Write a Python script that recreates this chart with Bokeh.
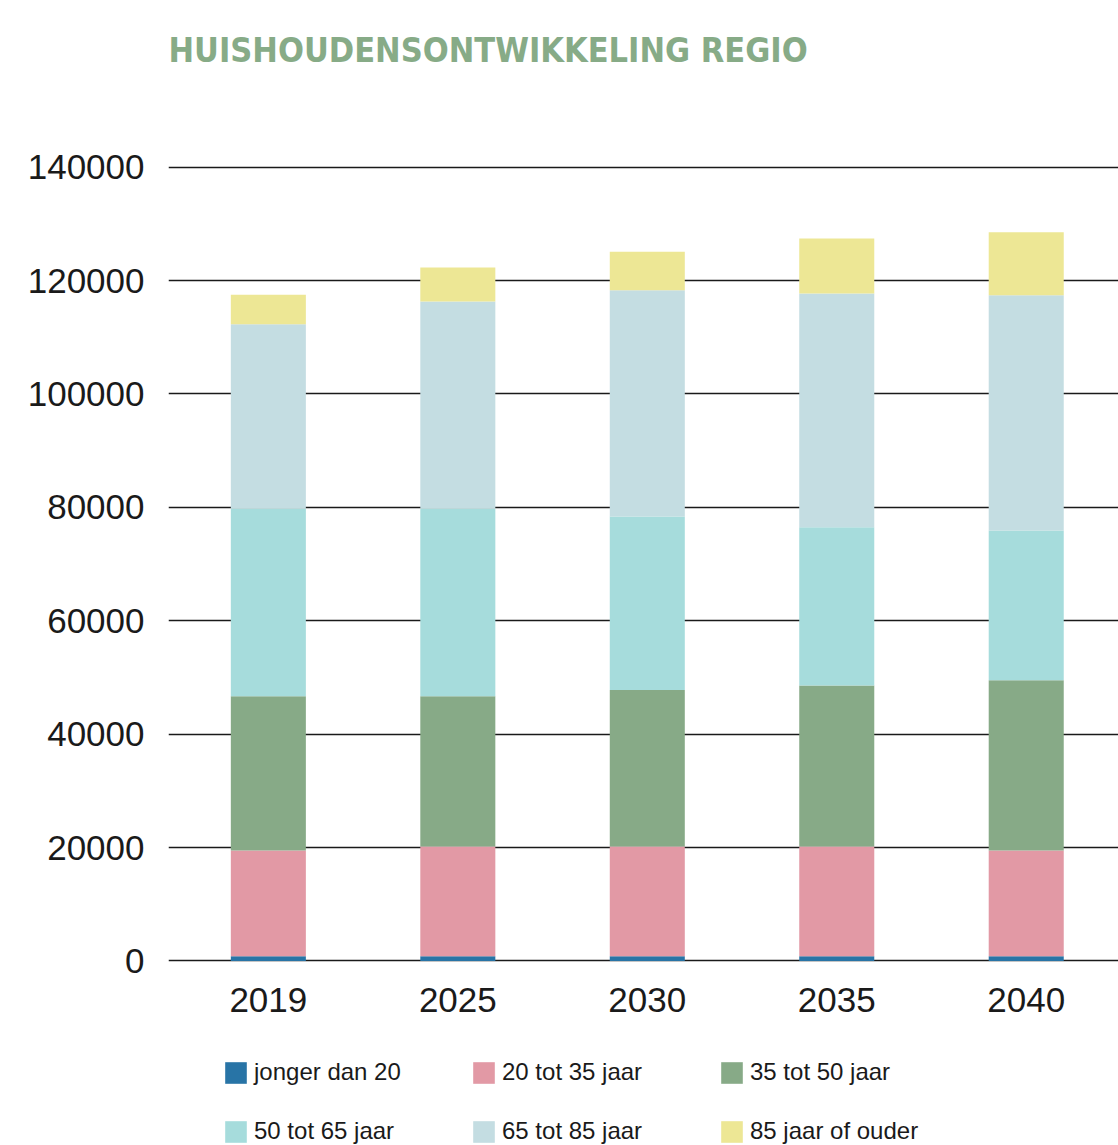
from bokeh.plotting import figure
from bokeh.models import ColumnDataSource, Range1d, FixedTicker, BasicTickFormatter, Title, Legend
from bokeh.embed import file_html
from bokeh.resources import INLINE

# ---- data ----
years = ["2019", "2025", "2030", "2035", "2040"]
series_names = ["jonger dan 20", "20 tot 35 jaar", "35 tot 50 jaar",
                "50 tot 65 jaar", "65 tot 85 jaar", "85 jaar of ouder"]
jonger_dan_20 = [850, 850, 850, 850, 850]
tot_35 = [18650, 19350, 19350, 19350, 18650]
tot_50 = [27200, 26500, 27600, 28400, 30000]
tot_65 = [33100, 33100, 30600, 27900, 26400]
tot_85 = [32500, 36500, 39900, 41200, 41500]
ouder_85 = [5200, 6000, 6800, 9700, 11100]
y_ticks = [0, 20000, 40000, 60000, 80000, 100000, 120000, 140000]

colors = ["#2874A6", "#E299A5", "#87AA87", "#A6DCDC", "#C4DDE2", "#EDE795"]
keys = ["s0", "s1", "s2", "s3", "s4", "s5"]

x_pos = list(range(len(years)))
source = ColumnDataSource(dict(x=x_pos, s0=jonger_dan_20, s1=tot_35, s2=tot_50,
                               s3=tot_65, s4=tot_85, s5=ouder_85))

p = figure(width=1118, height=1145, output_backend="svg", toolbar_location=None,
           x_range=Range1d(-0.527, 4.487), y_range=Range1d(-32545, 141000),
           min_border_left=168, min_border_right=0, min_border_top=161,
           min_border_bottom=0)
p.title = None

renderers = p.vbar_stack(keys, x="x", width=0.396, source=source, color=colors,
                         line_color=None)

# title (spacer panel nearest the frame, then the title itself)
spacer = Title(text=" ", text_font_size="1px", standoff=84)
p.add_layout(spacer, "above")
main_title = Title(text="HUISHOUDENSONTWIKKELING REGIO",
                   text_font="DejaVu Sans Condensed, Roboto",
                   text_font_style="bold", text_font_size="34px",
                   text_color="#87AB87", align="left", standoff=10)
p.add_layout(main_title, "above")

p.outline_line_color = None
p.background_fill_color = "white"
p.border_fill_color = "white"

# axes
xa = p.xaxis[0]
xa.fixed_location = 0
xa.ticker = FixedTicker(ticks=x_pos)
xa.major_label_overrides = {i: y for i, y in zip(x_pos, years)}
xa.axis_line_color = None
xa.major_tick_line_color = None
xa.minor_tick_line_color = None
xa.major_label_text_font = "Liberation Sans"
xa.major_label_text_font_size = "35px"
xa.major_label_text_color = "#1a1a1a"
xa.major_label_standoff = 21

ya = p.yaxis[0]
ya.ticker = FixedTicker(ticks=y_ticks)
ya.formatter = BasicTickFormatter(use_scientific=False)
ya.axis_line_color = None
ya.major_tick_line_color = None
ya.minor_tick_line_color = None
ya.major_label_text_font = "Liberation Sans"
ya.major_label_text_font_size = "35px"
ya.major_label_text_color = "#1a1a1a"
ya.major_label_standoff = 18

p.xgrid.grid_line_color = None
p.ygrid.ticker = FixedTicker(ticks=y_ticks)
p.ygrid.grid_line_color = "#1a1a1a"
p.ygrid.grid_line_width = 1.3

# legend
lg = Legend(items=[(name, [r]) for name, r in zip(series_names, renderers)])
lg.orientation = "horizontal"
lg.ncols = 3
lg.location = (54, 0)
lg.padding = 0
lg.margin = 0
lg.spacing = 31
lg.glyph_width = 27
lg.glyph_height = 27
lg.label_width = 185
lg.label_height = 28
lg.label_standoff = 5
lg.label_text_font = "Liberation Sans"
lg.label_text_font_size = "24px"
lg.label_text_color = "#1a1a1a"
lg.border_line_color = None
lg.background_fill_alpha = 0
p.add_layout(lg, "center")

open("out.html", "w").write(file_html(p, INLINE))
